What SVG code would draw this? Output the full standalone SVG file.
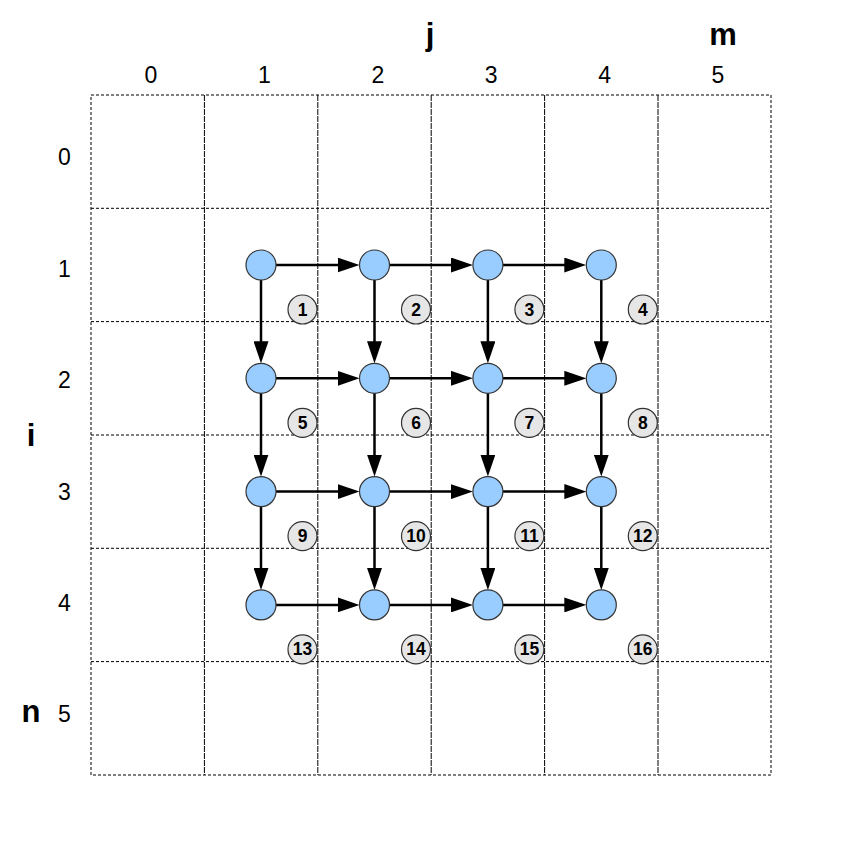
<svg xmlns="http://www.w3.org/2000/svg" width="858" height="851" viewBox="0 0 858 851">
<style>
.bg{fill:#ffffff}
.dot{stroke:#000;stroke-width:1;stroke-dasharray:3,2;fill:none}
.vl{stroke:#000;stroke-width:1;stroke-dasharray:6,1;fill:none}
.lbl{font-family:"Liberation Sans",Arial,sans-serif;font-size:23px;fill:#000;text-anchor:middle}
.axis{font-family:"Liberation Sans",Arial,sans-serif;font-size:31px;font-weight:bold;fill:#000;text-anchor:middle}
.node circle{fill:#99ccff;stroke:#333;stroke-width:1.2}
.badge circle{fill:#e6e6e6;stroke:#333;stroke-width:1.2}
.badge text{font-family:"Liberation Sans",Arial,sans-serif;font-size:17.5px;font-weight:bold;fill:#000;text-anchor:middle}
.conn line{stroke:#000;stroke-width:2.5;marker-end:url(#ah)}
</style>
<defs>
<marker id="ah" markerUnits="userSpaceOnUse" viewBox="0 0 22 15" refX="10" refY="7.5" markerWidth="22" markerHeight="15" orient="auto">
<path d="M0,0 L22,7.5 L0,15 z" fill="#000"/>
</marker>
</defs>
<rect class="bg" x="0" y="0" width="858" height="851"/>
<g id="grid">
<line class="dot" x1="91" y1="208.3" x2="771" y2="208.3"/>
<line class="dot" x1="91" y1="321.6" x2="771" y2="321.6"/>
<line class="dot" x1="91" y1="435" x2="771" y2="435"/>
<line class="dot" x1="91" y1="548.3" x2="771" y2="548.3"/>
<line class="dot" x1="91" y1="661.6" x2="771" y2="661.6"/>
<line class="vl" x1="204.4" y1="95" x2="204.4" y2="775"/>
<line class="vl" x1="317.8" y1="95" x2="317.8" y2="775"/>
<line class="vl" x1="431.2" y1="95" x2="431.2" y2="775"/>
<line class="vl" x1="544.6" y1="95" x2="544.6" y2="775"/>
<line class="vl" x1="658" y1="95" x2="658" y2="775"/>
<rect class="dot" x="91" y="95" width="680" height="680"/>
</g>
<g id="labels">
<text class="axis" x="430" y="45">j</text>
<text class="axis" x="723" y="45">m</text>
<text class="axis" x="31" y="446">i</text>
<text class="axis" x="31" y="722">n</text>
<text class="lbl" x="151" y="82.5">0</text>
<text class="lbl" x="264.4" y="82.5">1</text>
<text class="lbl" x="377.8" y="82.5">2</text>
<text class="lbl" x="491.2" y="82.5">3</text>
<text class="lbl" x="604.6" y="82.5">4</text>
<text class="lbl" x="718" y="82.5">5</text>
<text class="lbl" x="64.5" y="165">0</text>
<text class="lbl" x="64.5" y="276.5">1</text>
<text class="lbl" x="64.5" y="388">2</text>
<text class="lbl" x="64.5" y="499.5">3</text>
<text class="lbl" x="64.5" y="611">4</text>
<text class="lbl" x="64.5" y="722">5</text>
</g>
<g id="connectors" class="conn">
<line x1="276" y1="265" x2="347.5" y2="265"/>
<line x1="389.5" y1="265" x2="460.9" y2="265"/>
<line x1="502.9" y1="265" x2="574.3" y2="265"/>
<line x1="276" y1="378.3" x2="347.5" y2="378.3"/>
<line x1="389.5" y1="378.3" x2="460.9" y2="378.3"/>
<line x1="502.9" y1="378.3" x2="574.3" y2="378.3"/>
<line x1="276" y1="491.6" x2="347.5" y2="491.6"/>
<line x1="389.5" y1="491.6" x2="460.9" y2="491.6"/>
<line x1="502.9" y1="491.6" x2="574.3" y2="491.6"/>
<line x1="276" y1="604.9" x2="347.5" y2="604.9"/>
<line x1="389.5" y1="604.9" x2="460.9" y2="604.9"/>
<line x1="502.9" y1="604.9" x2="574.3" y2="604.9"/>
<line x1="261" y1="280" x2="261" y2="351.3"/>
<line x1="374.5" y1="280" x2="374.5" y2="351.3"/>
<line x1="487.9" y1="280" x2="487.9" y2="351.3"/>
<line x1="601.3" y1="280" x2="601.3" y2="351.3"/>
<line x1="261" y1="393.3" x2="261" y2="464.6"/>
<line x1="374.5" y1="393.3" x2="374.5" y2="464.6"/>
<line x1="487.9" y1="393.3" x2="487.9" y2="464.6"/>
<line x1="601.3" y1="393.3" x2="601.3" y2="464.6"/>
<line x1="261" y1="506.6" x2="261" y2="577.9"/>
<line x1="374.5" y1="506.6" x2="374.5" y2="577.9"/>
<line x1="487.9" y1="506.6" x2="487.9" y2="577.9"/>
<line x1="601.3" y1="506.6" x2="601.3" y2="577.9"/>
</g>
<g id="node-1-1" class="node"><circle cx="261" cy="265" r="15"/></g>
<g id="node-1-2" class="node"><circle cx="374.5" cy="265" r="15"/></g>
<g id="node-1-3" class="node"><circle cx="487.9" cy="265" r="15"/></g>
<g id="node-1-4" class="node"><circle cx="601.3" cy="265" r="15"/></g>
<g id="node-2-1" class="node"><circle cx="261" cy="378.3" r="15"/></g>
<g id="node-2-2" class="node"><circle cx="374.5" cy="378.3" r="15"/></g>
<g id="node-2-3" class="node"><circle cx="487.9" cy="378.3" r="15"/></g>
<g id="node-2-4" class="node"><circle cx="601.3" cy="378.3" r="15"/></g>
<g id="node-3-1" class="node"><circle cx="261" cy="491.6" r="15"/></g>
<g id="node-3-2" class="node"><circle cx="374.5" cy="491.6" r="15"/></g>
<g id="node-3-3" class="node"><circle cx="487.9" cy="491.6" r="15"/></g>
<g id="node-3-4" class="node"><circle cx="601.3" cy="491.6" r="15"/></g>
<g id="node-4-1" class="node"><circle cx="261" cy="604.9" r="15"/></g>
<g id="node-4-2" class="node"><circle cx="374.5" cy="604.9" r="15"/></g>
<g id="node-4-3" class="node"><circle cx="487.9" cy="604.9" r="15"/></g>
<g id="node-4-4" class="node"><circle cx="601.3" cy="604.9" r="15"/></g>
<g id="badge-1" class="badge"><circle cx="302.5" cy="309.5" r="14.5"/><text x="302.5" y="315.5">1</text></g>
<g id="badge-2" class="badge"><circle cx="416" cy="309.5" r="14.5"/><text x="416" y="315.5">2</text></g>
<g id="badge-3" class="badge"><circle cx="529.4" cy="309.5" r="14.5"/><text x="529.4" y="315.5">3</text></g>
<g id="badge-4" class="badge"><circle cx="642.8" cy="309.5" r="14.5"/><text x="642.8" y="315.5">4</text></g>
<g id="badge-5" class="badge"><circle cx="302.5" cy="422.8" r="14.5"/><text x="302.5" y="428.8">5</text></g>
<g id="badge-6" class="badge"><circle cx="416" cy="422.8" r="14.5"/><text x="416" y="428.8">6</text></g>
<g id="badge-7" class="badge"><circle cx="529.4" cy="422.8" r="14.5"/><text x="529.4" y="428.8">7</text></g>
<g id="badge-8" class="badge"><circle cx="642.8" cy="422.8" r="14.5"/><text x="642.8" y="428.8">8</text></g>
<g id="badge-9" class="badge"><circle cx="302.5" cy="536.1" r="14.5"/><text x="302.5" y="542.1">9</text></g>
<g id="badge-10" class="badge"><circle cx="416" cy="536.1" r="14.5"/><text x="416" y="542.1">10</text></g>
<g id="badge-11" class="badge"><circle cx="529.4" cy="536.1" r="14.5"/><text x="529.4" y="542.1">11</text></g>
<g id="badge-12" class="badge"><circle cx="642.8" cy="536.1" r="14.5"/><text x="642.8" y="542.1">12</text></g>
<g id="badge-13" class="badge"><circle cx="302.5" cy="649.4" r="14.5"/><text x="302.5" y="655.4">13</text></g>
<g id="badge-14" class="badge"><circle cx="416" cy="649.4" r="14.5"/><text x="416" y="655.4">14</text></g>
<g id="badge-15" class="badge"><circle cx="529.4" cy="649.4" r="14.5"/><text x="529.4" y="655.4">15</text></g>
<g id="badge-16" class="badge"><circle cx="642.8" cy="649.4" r="14.5"/><text x="642.8" y="655.4">16</text></g>
</svg>
